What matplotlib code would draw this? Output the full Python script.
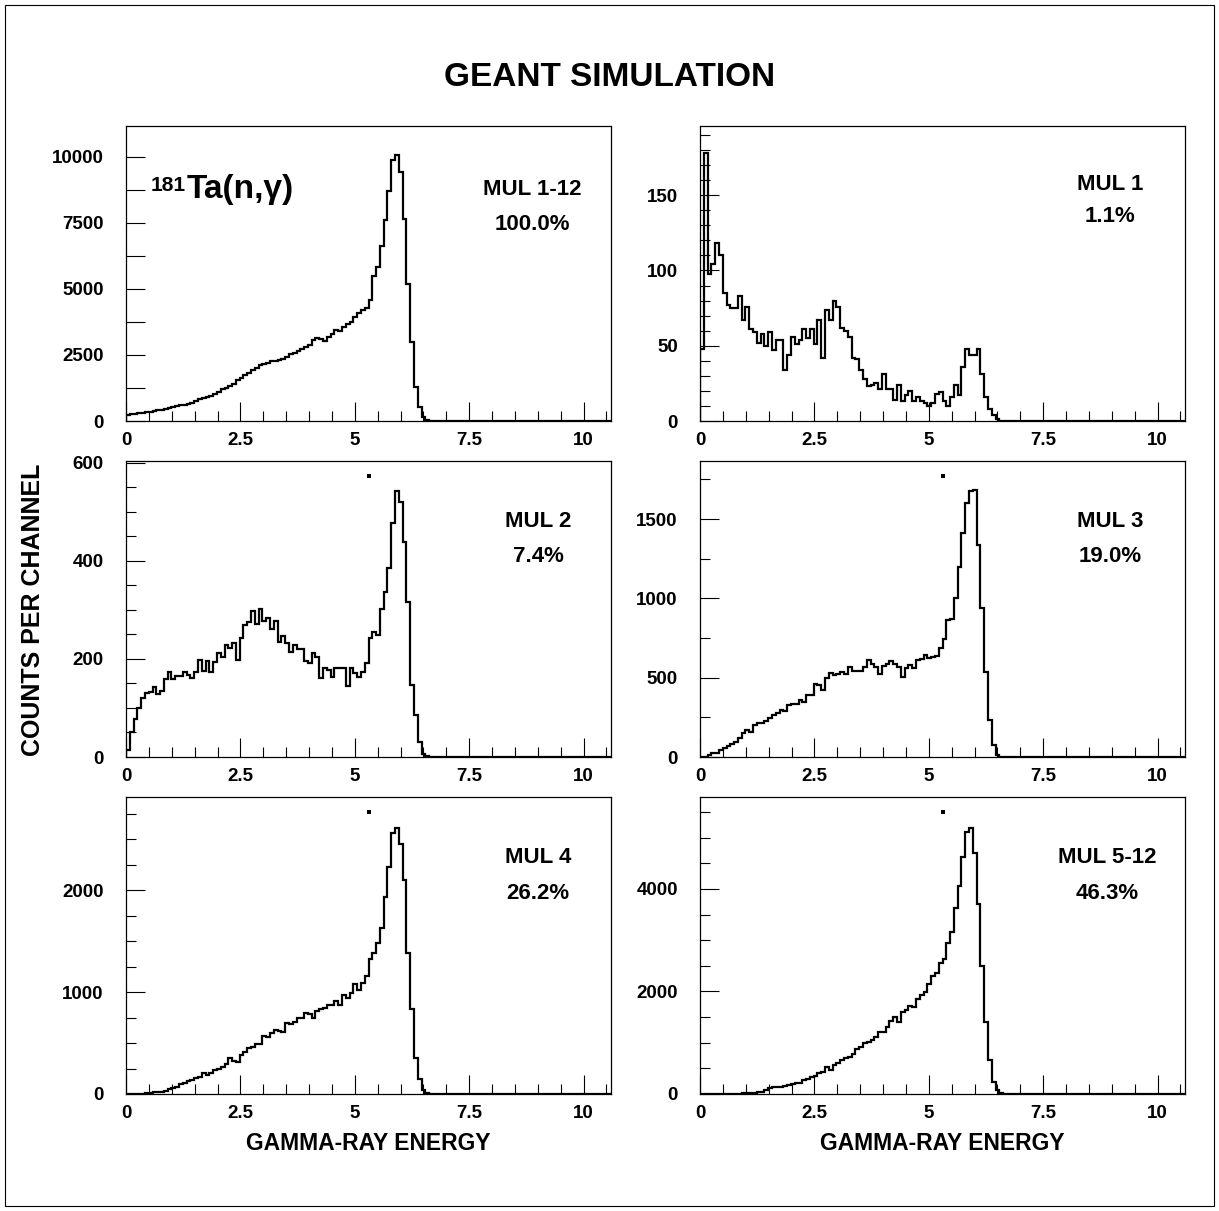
import matplotlib
matplotlib.use("Agg")
import matplotlib.pyplot as plt
import matplotlib.transforms as mtransforms
from matplotlib.patches import Rectangle
from matplotlib.ticker import MultipleLocator, FixedLocator
import numpy as np

plt.rcParams["font.family"] = ["Liberation Sans", "DejaVu Sans"]
plt.rcParams["font.weight"] = "bold"

# histogram: 128 channels over 0..10.6 MeV, only the filled channels are listed
x_max = 10.6
n_channels = 128

mul_1_12 = [227, 253, 265, 290, 316, 341, 354, 366, 404, 429,
            467, 493, 530, 556, 594, 619, 657, 682, 745, 821,
            859, 909, 960, 1023, 1086, 1200, 1250, 1313, 1415, 1553,
            1642, 1730, 1831, 1932, 2021, 2109, 2160, 2210, 2261, 2286,
            2311, 2349, 2438, 2526, 2589, 2665, 2728, 2816, 2892, 3069,
            3145, 3107, 3031, 3170, 3284, 3448, 3410, 3574, 3663, 3751,
            3953, 4105, 4206, 4269, 4585, 5494, 5822, 6631, 7616, 8727,
            9889, 10079, 9447, 7654, 5191, 2981, 1301, 543, 139, 30, 5]
mul_1 = [48, 178, 98, 104, 118, 110, 85, 77, 75, 75,
         83, 67, 76, 61, 59, 52, 58, 50, 59, 47,
         54, 54, 34, 44, 56, 51, 54, 61, 55, 61,
         51, 67, 42, 74, 67, 80, 76, 62, 60, 56,
         42, 41, 34, 28, 23, 24, 25, 21, 31, 21,
         21, 14, 24, 13, 17, 20, 13, 16, 13, 12,
         10, 12, 18, 19, 13, 10, 16, 24, 17, 36,
         48, 44, 44, 48, 31, 16, 8, 4, 1]
mul_2 = [14, 52, 77, 101, 120, 130, 132, 142, 129, 135,
         159, 174, 159, 166, 166, 173, 167, 162, 174, 197,
         176, 195, 174, 193, 212, 205, 229, 222, 232, 198,
         242, 269, 276, 298, 271, 301, 278, 284, 261, 278,
         235, 246, 232, 214, 229, 220, 220, 195, 191, 213,
         205, 161, 181, 178, 164, 181, 182, 181, 145, 182,
         172, 164, 174, 191, 243, 256, 249, 303, 337, 385,
         477, 543, 521, 438, 317, 147, 86, 31, 7, 2]
mul_3 = [0, 3, 13, 23, 27, 44, 55, 72, 80, 97,
         118, 150, 171, 160, 203, 213, 213, 230, 245, 262,
         276, 297, 291, 329, 335, 333, 361, 344, 388, 388,
         460, 456, 424, 498, 530, 519, 525, 534, 523, 565,
         544, 540, 544, 567, 614, 589, 567, 525, 572, 586,
         603, 586, 565, 502, 561, 582, 561, 612, 618, 646,
         624, 631, 635, 688, 747, 863, 871, 1004, 1198, 1409,
         1603, 1679, 1684, 1338, 941, 536, 234, 76, 13, 2]
mul_4 = [0, 0, 0, 0, 0, 7, 10, 16, 20, 23,
         29, 46, 56, 65, 98, 111, 127, 137, 154, 163,
         203, 186, 203, 235, 242, 268, 291, 350, 327, 317,
         382, 408, 448, 458, 487, 487, 572, 556, 601, 627,
         621, 611, 693, 686, 709, 742, 742, 797, 784, 742,
         817, 830, 840, 873, 873, 915, 873, 971, 938, 993,
         1075, 1020, 1085, 1157, 1324, 1379, 1484, 1631, 1928, 2222,
         2562, 2605, 2451, 2098, 1379, 830, 350, 144, 39, 7]
mul_5_12 = [0, 0, 0, 0, 0, 0, 0, 0, 3, 5,
            8, 10, 13, 13, 13, 46, 46, 78, 111, 130,
            130, 143, 156, 176, 195, 208, 221, 273, 286, 338,
            358, 403, 436, 520, 468, 566, 598, 663, 696, 728,
            774, 871, 923, 988, 1021, 1053, 1118, 1203, 1216, 1313,
            1430, 1495, 1398, 1606, 1638, 1717, 1690, 1847, 1931, 1996,
            2146, 2308, 2354, 2549, 2633, 2952, 3166, 3635, 4057, 4629,
            5117, 5182, 4707, 3706, 2503, 1411, 663, 241, 78, 10]

series = [mul_1_12, mul_1, mul_2, mul_3, mul_4, mul_5_12]
mul_labels = ["MUL 1-12", "MUL 1", "MUL 2", "MUL 3", "MUL 4", "MUL 5-12"]
percent_labels = ["100.0%", "1.1%", "7.4%", "19.0%", "26.2%", "46.3%"]
y_max = [11170, 196, 604, 1866, 2912, 5795]
y_major = [2500, 50, 200, 500, 1000, 2000]
y_minor = [1250, 10, 50, 250, 250, 500]
x_ticks = [0, 2.5, 5, 7.5, 10]

# layout in figure pixels (1219 x 1211)
W, H = 1219, 1211
col_left = [126, 700]
col_width = 485
row_top = [126, 461, 797]
row_height = [295, 296, 297]
text_pos = [(0.837, 0.766, 0.647), (0.845, 0.783, 0.675),
            (0.850, 0.777, 0.659), (0.845, 0.777, 0.659),
            (0.850, 0.778, 0.657), (0.840, 0.778, 0.657)]

fig = plt.figure(figsize=(W / 100, H / 100), dpi=100)
edges = np.linspace(0, x_max, n_channels + 1)

for i, counts in enumerate(series):
    r, c = divmod(i, 2)
    left = col_left[c] / W
    bottom = 1 - (row_top[r] + row_height[r]) / H
    ax = fig.add_axes([left, bottom, col_width / W, row_height[r] / H])

    values = np.zeros(n_channels)
    values[:len(counts)] = counts
    ax.stairs(values, edges, color="black", lw=1.6)

    ax.set_xlim(0, x_max)
    ax.set_ylim(0, y_max[i])
    for s in ax.spines.values():
        s.set_linewidth(0.9)

    ax.xaxis.set_major_locator(FixedLocator(x_ticks))
    ax.xaxis.set_minor_locator(MultipleLocator(0.5))
    ax.set_xticklabels([f"{v:g}" for v in x_ticks])
    ax.yaxis.set_major_locator(MultipleLocator(y_major[i]))
    ax.yaxis.set_minor_locator(MultipleLocator(y_minor[i]))
    ax.yaxis.set_major_formatter(lambda v, p: f"{v:g}")

    minor_len = 13.5 if i == 0 else 7
    ax.tick_params(axis="both", which="major", direction="in", length=13.5,
                   width=0.8, labelsize=13.5)
    ax.tick_params(axis="y", which="minor", direction="in", length=minor_len, width=0.8)
    ax.tick_params(axis="x", which="minor", direction="in", length=7, width=0.8)
    ax.tick_params(axis="y", which="major", pad=16)
    ax.tick_params(axis="x", which="major", pad=8)
    for lab in ax.get_xticklabels() + ax.get_yticklabels():
        lab.set_fontweight("bold")

    tx, ty1, ty2 = text_pos[i]
    ax.text(tx, ty1, mul_labels[i], transform=ax.transAxes, ha="center",
            va="baseline", fontsize=16, fontweight="bold")
    ax.text(tx, ty2, percent_labels[i], transform=ax.transAxes, ha="center",
            va="baseline", fontsize=16, fontweight="bold")

    if r > 0:
        # small stray dot printed above each lower panel
        trans = mtransforms.blended_transform_factory(ax.transData, ax.transAxes)
        ax.plot([5.3], [0.95], marker="s", ms=2.4, mew=0, color="black",
                transform=trans, clip_on=False)

    if i == 0:
        ta = ax.text(0.124, 0.756, "Ta(n,\u03b3)", transform=ax.transAxes,
                     ha="left", va="baseline", fontsize=24, fontweight="bold")
        ax.annotate("181", xy=(0, 0.93), xycoords=ta, ha="right", va="top",
                    fontsize=15, fontweight="bold")

fig.text(0.5, 1 - 78 / H, "GEANT SIMULATION", ha="center", va="center",
         fontsize=24, fontweight="bold")
fig.text(33 / W, 1 - 610 / H, "COUNTS PER CHANNEL", ha="center", va="center",
         rotation=90, fontsize=18, fontweight="bold")
for c in range(2):
    fig.text((col_left[c] + col_width / 2) / W, 1 - 1143 / H, "GAMMA-RAY ENERGY",
             ha="center", va="center", fontsize=16.5, fontweight="bold")

fig.patches.append(Rectangle((5 / W, 5 / H), 1 - 10 / W, 1 - 10 / H,
                             transform=fig.transFigure, fill=False,
                             edgecolor="black", lw=0.8))

fig.savefig("out.png", dpi=100)
